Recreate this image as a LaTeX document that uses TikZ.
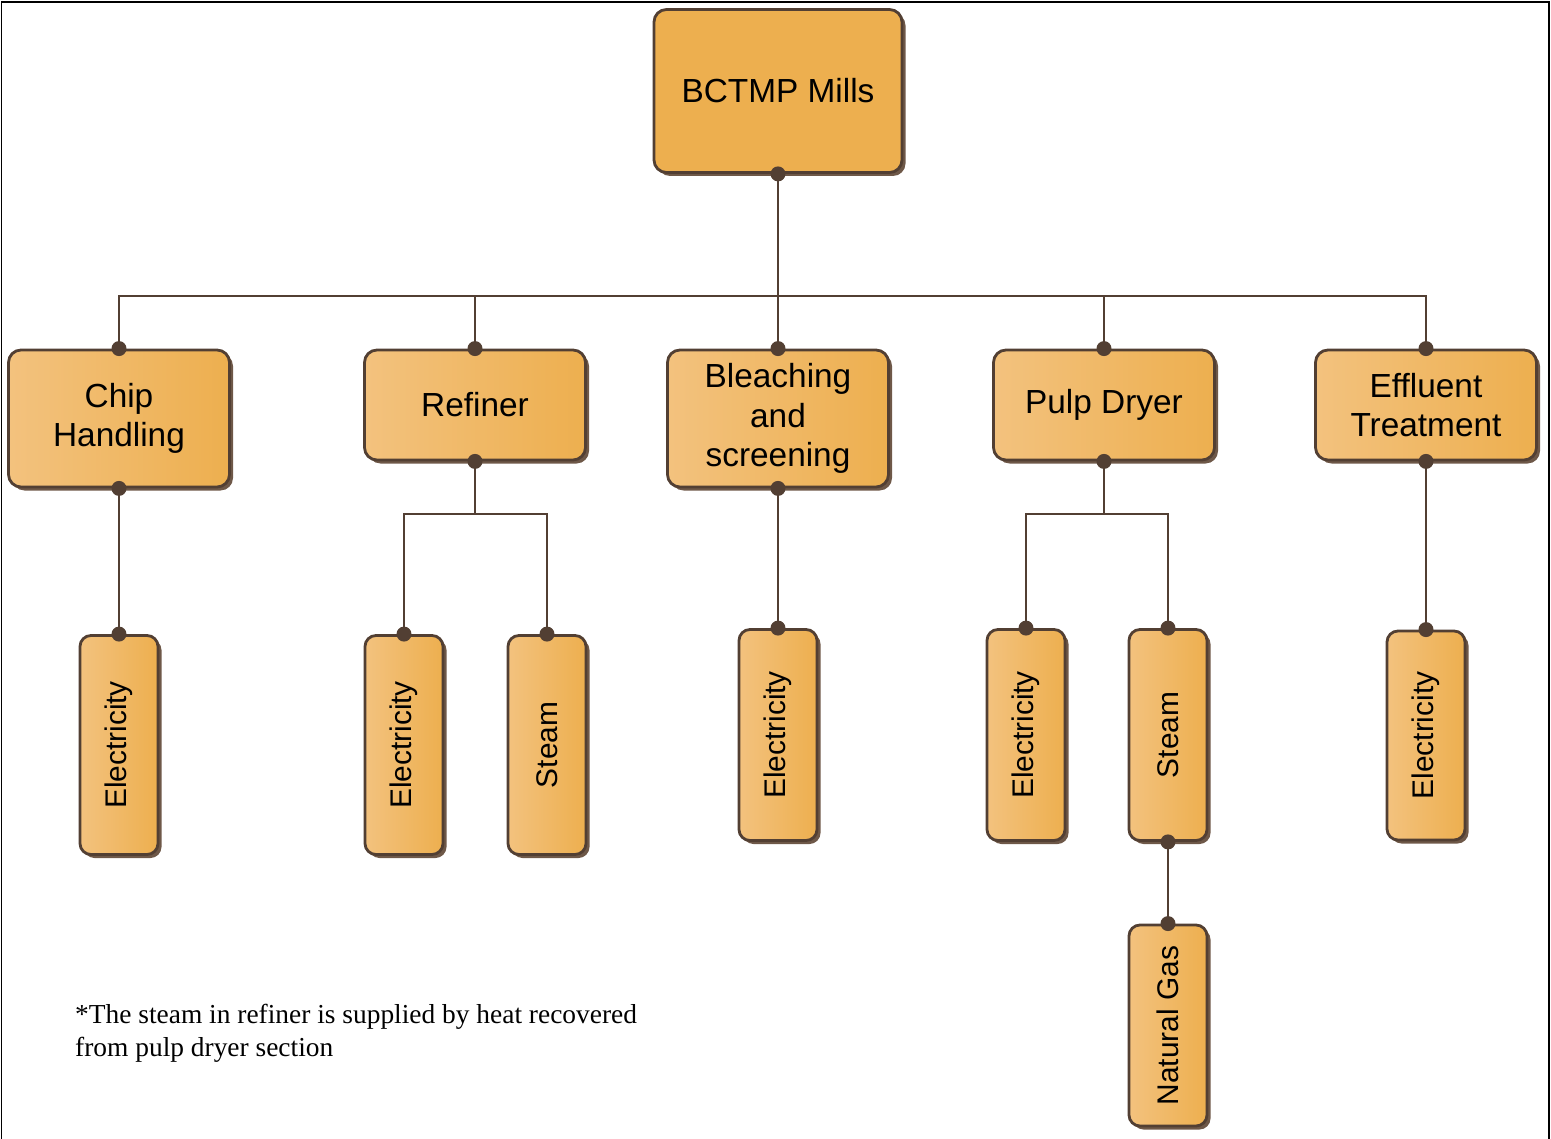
\documentclass[tikz,border=0pt]{standalone}
\usepackage{fontspec}
\setmainfont{Liberation Serif}
\setsansfont{Liberation Sans}
\usetikzlibrary{positioning,shadows}
\definecolor{boxfill}{HTML}{EDAF4F}
\definecolor{boxlight}{HTML}{F3C27E}
\definecolor{edge}{HTML}{523F33}
\definecolor{shadowc}{HTML}{6E5848}

\begin{document}
\begin{tikzpicture}[
  rootbox/.style={draw=edge, line width=1.6pt, rounded corners=0.25cm, fill=boxfill,
    drop shadow={shadow xshift=0.07cm, shadow yshift=-0.07cm, fill=shadowc, opacity=1},
    minimum width=4.96cm, minimum height=3.26cm, align=center, font=\sffamily\fontsize{19}{23}\selectfont},
  unit/.style={draw=edge, line width=1.6pt, rounded corners=0.25cm, left color=boxlight, right color=boxfill,
    drop shadow={shadow xshift=0.07cm, shadow yshift=-0.07cm, fill=shadowc, opacity=1},
    minimum width=4.42cm, minimum height=2.2cm, align=center, font=\sffamily\fontsize{19}{22.5}\selectfont},
  leaf/.style={draw=edge, line width=1.6pt, rounded corners=0.22cm, rotate=90, left color=boxlight, right color=boxfill,
    drop shadow={shadow xshift=0.07cm, shadow yshift=-0.07cm, fill=shadowc, opacity=1},
    minimum height=1.56cm, minimum width=4.22cm, font=\sffamily\fontsize{17}{20}\selectfont},
  wire/.style={draw=edge, line width=1.4pt},
  note/.style={anchor=north west, align=left, font=\fontsize{15.6}{19}\selectfont}
]
\useasboundingbox (0,0) rectangle (31.02,-22.78);
\draw[black, line width=0.04cm] (0.03,-0.05) rectangle (30.98,-22.9);

% Root
\node[rootbox] (root) at (15.56,-1.82) {BCTMP Mills};

% Sections
\node[unit, minimum height=2.74cm] (chip) at (2.38,-8.37) {Chip\\Handling};
\node[unit] (ref) at (9.50,-8.10) {Refiner};
\node[unit, minimum height=2.74cm] (ble) at (15.56,-8.37) {Bleaching\\and\\screening};
\node[unit] (pul) at (22.08,-8.10) {Pulp Dryer};
\node[unit] (eff) at (28.52,-8.10) {Effluent\\Treatment};

% Energy inputs
\node[leaf, minimum width=4.38cm] (chipE) at (2.38,-14.90) {Electricity};
\node[leaf, minimum width=4.38cm] (refE) at (8.08,-14.90) {Electricity};
\node[leaf, minimum width=4.38cm] (refS) at (10.94,-14.90) {Steam};
\node[leaf] (bleE) at (15.56,-14.70) {Electricity};
\node[leaf] (pulE) at (20.52,-14.70) {Electricity};
\node[leaf] (pulS) at (23.36,-14.70) {Steam};
\node[leaf, minimum width=4.02cm] (gas) at (23.36,-20.51) {Natural Gas};
\node[leaf, minimum width=4.18cm] (effE) at (28.52,-14.71) {Electricity};

% Busses
\coordinate (bus) at (0,-5.92);
\coordinate (sub) at (0,-10.28);

% Wires
\foreach \c in {chip,ref,ble,pul,eff}
  \draw[wire] (root.south) -- (root.south |- bus) -| (\c.north);
\draw[wire] (chip.south) -- (chipE.east);
\draw[wire] (ref.south) -- (ref.south |- sub) -| (refE.east);
\draw[wire] (ref.south |- sub) -| (refS.east);
\draw[wire] (ble.south) -- (bleE.east);
\draw[wire] (pul.south) -- (pul.south |- sub) -| (pulE.east);
\draw[wire] (pul.south |- sub) -| (pulS.east);
\draw[wire] (eff.south) -- (effE.east);
\draw[wire] (pulS.west) -- (gas.east);

% Dots
\foreach \p in {root.south, chip.north, chip.south, ref.north, ref.south, ble.north, ble.south,
    pul.north, pul.south, eff.north, eff.south, chipE.east, refE.east, refS.east, bleE.east,
    pulE.east, pulS.east, pulS.west, gas.east, effE.east}
  \fill[edge] (\p) circle (0.15cm);

% Footnote
\node[note] (note) at (1.38,-19.96) {*The steam in refiner is supplied by heat recovered\\from pulp dryer section};
\end{tikzpicture}
\end{document}
